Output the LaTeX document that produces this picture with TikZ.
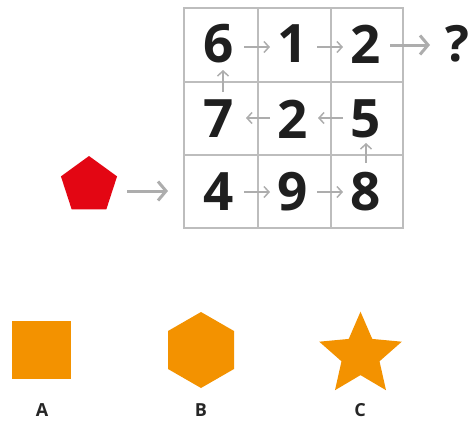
\documentclass[tikz,border=0pt]{standalone}
\usepackage{fontspec}
\setmainfont{Open Sans}
\usetikzlibrary{arrows.meta}
\definecolor{gridgray}{HTML}{BDBDBD}
\definecolor{arrgray}{HTML}{ADADAD}
\definecolor{penred}{HTML}{E30613}
\definecolor{orng}{HTML}{F39200}
\tikzset{
  digit/.style={inner sep=0pt, font=\fontsize{53}{53}\selectfont\bfseries, text=black!88},
  sarrow/.style={draw=arrgray, line width=1.5pt, -{Straight Barb[length=5pt,width=11pt,line width=1.5pt]}},
  barrow/.style={draw=arrgray, line width=3pt, -{Straight Barb[length=8pt,width=19pt,line width=3pt]}},
  gridline/.style={draw=gridgray, line width=2pt},
  lbl/.style={inner sep=0pt, font=\fontsize{18}{18}\selectfont\bfseries, text=black!85},
  shp/.style={fill=orng, draw=none}
}
\begin{document}
\begin{tikzpicture}[x=1pt,y=-1pt]
\useasboundingbox (0,0) rectangle (469,421);
% grid
\draw[gridline] (184,8) rectangle (403,228);
\draw[gridline] (258,8) -- (258,228) (331,8) -- (331,228)
  (184,82) -- (403,82) (184,155) -- (403,155);
% digits
\node[digit] (n6) at (219,44) {6};
\node[digit] (n1) at (293,44) {1};
\node[digit] (n2a) at (366,44) {2};
\node[digit] (n7) at (219,119) {7};
\node[digit] (n2b) at (293,119) {2};
\node[digit] (n5) at (366,119) {5};
\node[digit] (n4) at (219,192) {4};
\node[digit] (n9) at (293,192) {9};
\node[digit] (n8) at (366,192) {8};
\node[digit, font=\fontsize{50}{50}\selectfont\bfseries] (q) at (457.5,44) {?};
% small arrows
\draw[sarrow, shorten <=25pt, shorten >=23pt] ([yshift=-3pt]n6.center) -- ([yshift=-3pt]n1.center);
\draw[sarrow, shorten <=24pt, shorten >=23pt] ([yshift=-3pt]n1.center) -- ([yshift=-3pt]n2a.center);
\draw[sarrow, shorten <=23pt, shorten >=27pt] ([yshift=1pt]n2b.center) -- ([yshift=1pt]n7.center);
\draw[sarrow, shorten <=23pt, shorten >=25pt] ([yshift=1pt]n5.center) -- ([yshift=1pt]n2b.center);
\draw[sarrow, shorten <=25pt, shorten >=23pt] (n4.center) -- (n9.center);
\draw[sarrow, shorten <=24pt, shorten >=23pt] (n9.center) -- (n8.center);
\draw[sarrow, shorten <=27pt, shorten >=26pt] ([xshift=4pt]n7.center) -- ([xshift=4pt]n6.center);
\draw[sarrow, shorten <=29pt, shorten >=24pt] (n8.center) -- (n5.center);
% big arrows
\draw[barrow, shorten <=24pt, shorten >=27.5pt] ([yshift=-1pt]n2a.center) -- ([yshift=-1pt]q.center);
\coordinate (gin) at (168,191);
\path[fill=penred] (89,156) -- (117.06,176.39) -- (106.34,209.36) -- (71.66,209.36) -- (60.94,176.39) -- cycle;
\node[inner sep=0pt, minimum size=0pt] (pent) at (89,185.5) {};
\draw[barrow, shorten <=38pt] ([yshift=-5.5pt]pent.center) -- (gin);
% bottom shapes
\fill[shp] (12,321) rectangle (71,379);
\fill[shp] (201,312) -- (234,331) -- (234,369) -- (201,388) -- (168,369) -- (168,331) -- cycle;
\fill[shp] ({360.5+43.4*cos(-90)},{355.1+43.4*sin(-90)})
  -- ({360.5+20*cos(-54)},{355.1+20*sin(-54)})
  -- ({360.5+43.4*cos(-18)},{355.1+43.4*sin(-18)})
  -- ({360.5+20*cos(18)},{355.1+20*sin(18)})
  -- ({360.5+43.4*cos(54)},{355.1+43.4*sin(54)})
  -- ({360.5+20*cos(90)},{355.1+20*sin(90)})
  -- ({360.5+43.4*cos(126)},{355.1+43.4*sin(126)})
  -- ({360.5+20*cos(162)},{355.1+20*sin(162)})
  -- ({360.5+43.4*cos(198)},{355.1+43.4*sin(198)})
  -- ({360.5+20*cos(234)},{355.1+20*sin(234)})
  -- cycle;
% labels
\node[lbl] (la) at (42,410.5) {A};
\node[lbl] (lb) at (201,410.5) {B};
\node[lbl] (lc) at (360,410.5) {C};
\end{tikzpicture}
\end{document}
